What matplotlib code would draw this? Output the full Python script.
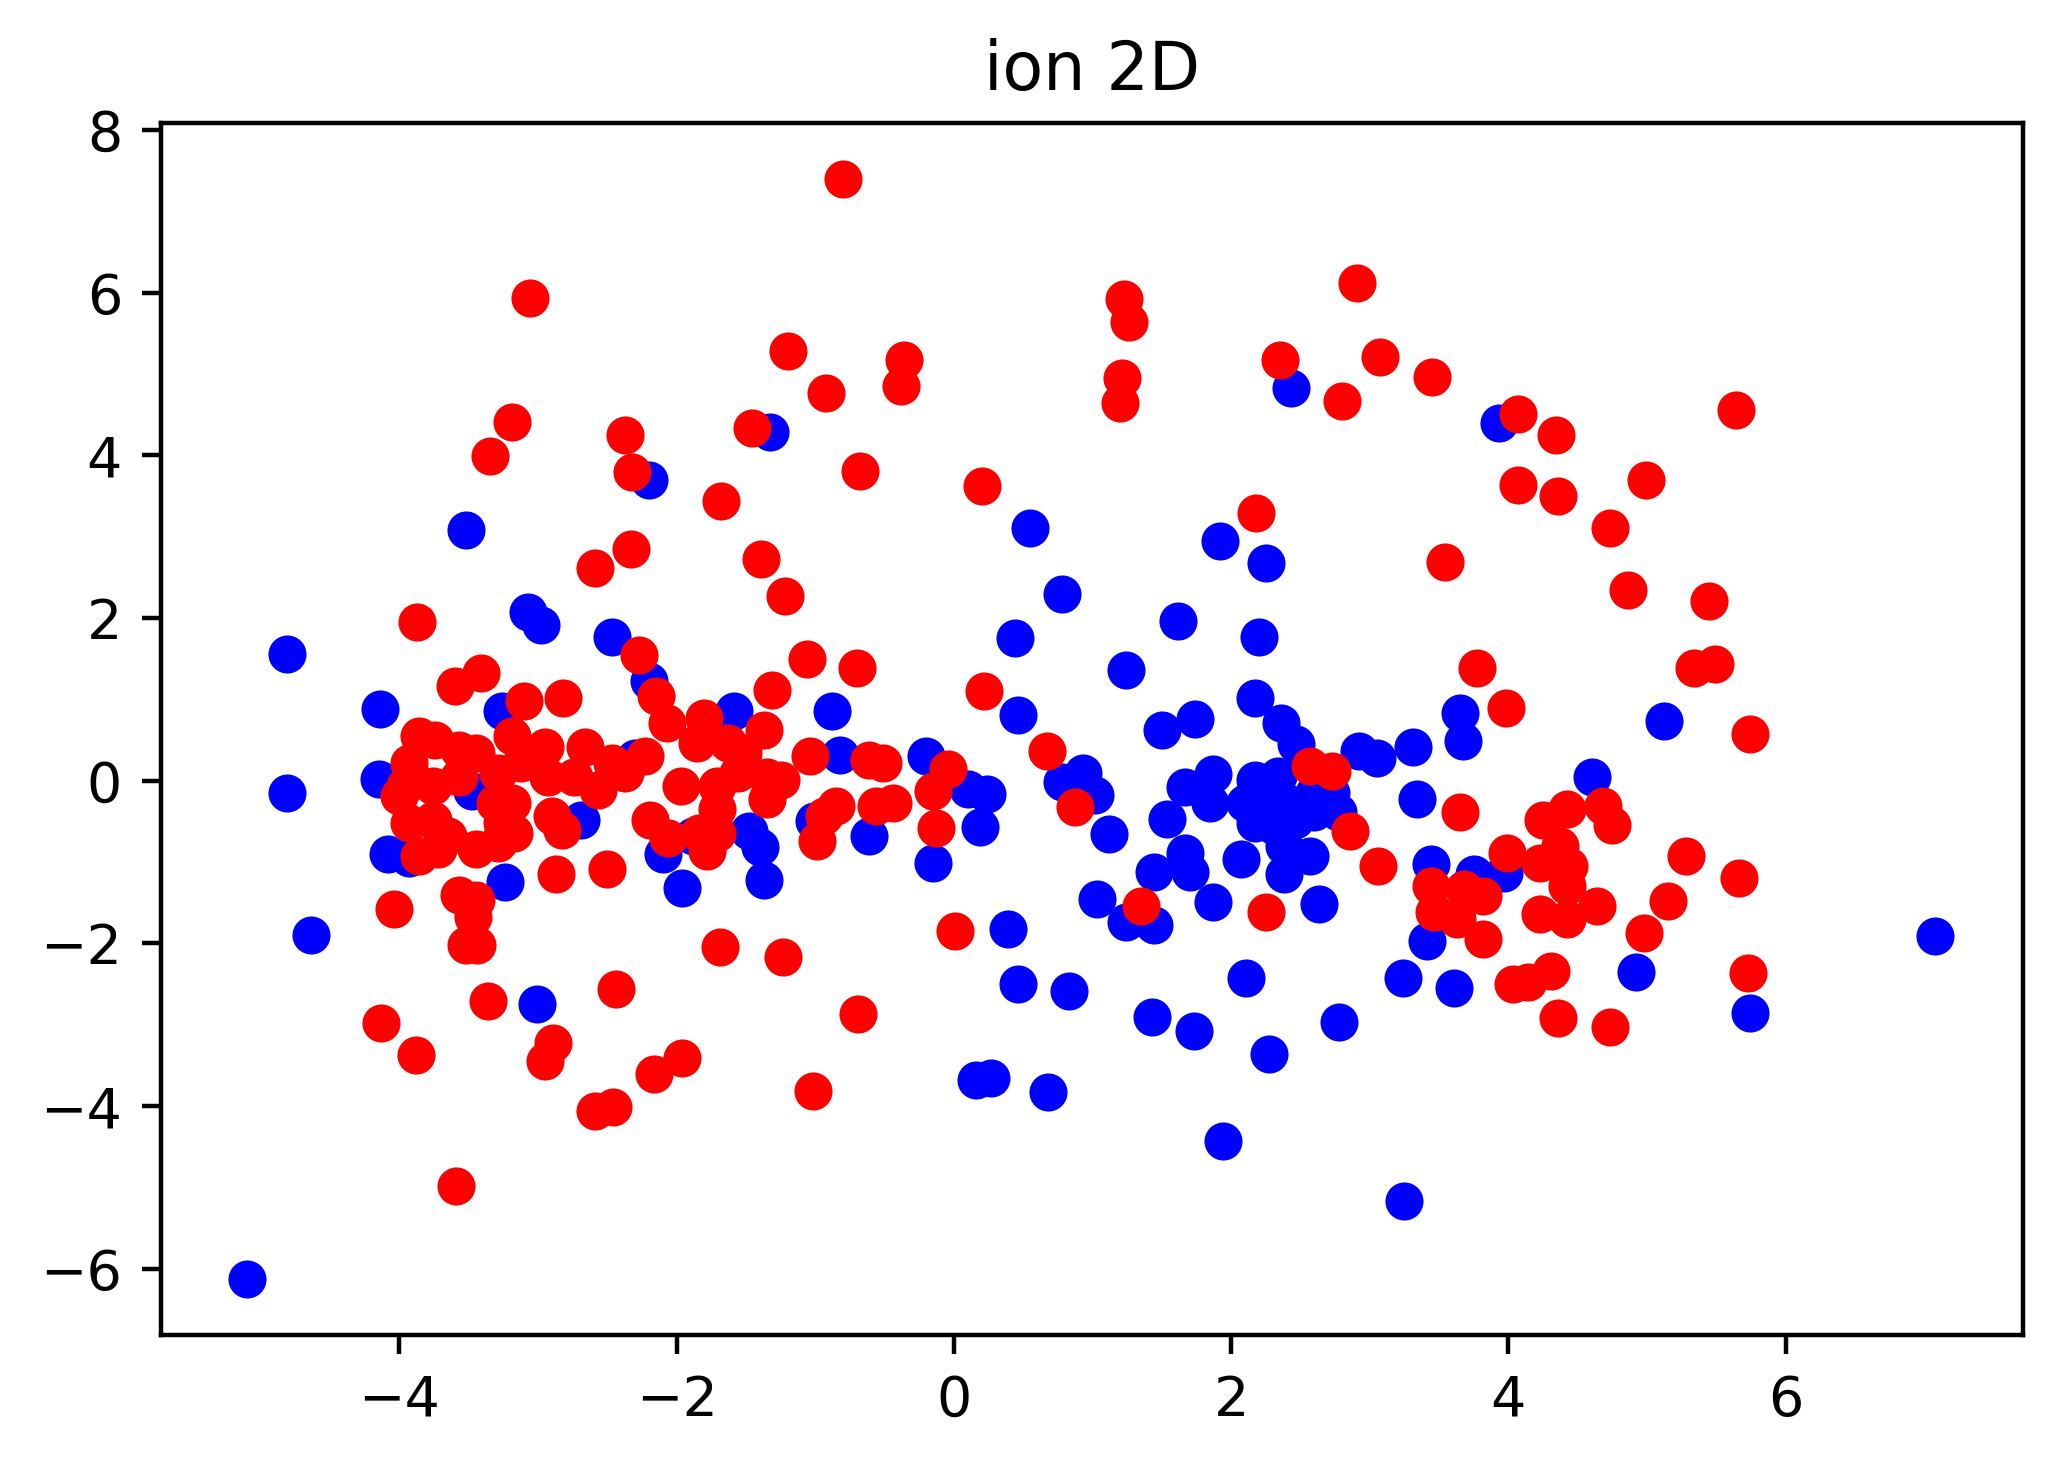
import matplotlib
matplotlib.use("Agg")
import matplotlib.pyplot as plt

title = "ion 2D"

blue_x = [-4.81, -3.52, -3.07, -2.98, -2.47, -2.20, -2.20, -1.33, 0.55, 0.78, 0.44, 0.46, 1.24, 1.62, 1.74,
          1.92, 2.25, 2.20, 2.17, 2.43, 3.93, 5.12, 3.65, 3.67, -1.59, -0.88, -4.14, -3.26, 1.50,
          -2.30, -4.15, -2.69, -3.48, -4.08, -3.93, -3.24,
          -5.10, -4.81, -4.64, -3.01, -1.96, -1.37, -1.48, -1.40, -2.10, -1.88, -0.82, -0.20, -1.01, -0.61,
          -0.15, 0.10, 0.24, 0.19,
          0.16, 0.27, 0.68, 0.39, 0.46, 0.83, 1.03, 1.12, 1.24, 1.44, 1.44, 1.43, 1.73, 1.94, 1.87, 1.67,
          1.70, 2.07, 2.11, 2.27, 2.38, 2.57, 2.63, 2.78, 3.25, 3.24, 3.41, 3.61, 3.44, 3.75, 3.97, 4.92,
          5.74, 7.08, 3.34, 3.05, 3.31, 4.60, 2.92,
          0.78, 0.93, 1.02, 1.54, 1.67, 1.87, 1.85, 2.36, 2.47,
          2.17, 2.34, 2.10, 2.24, 2.41, 2.31, 2.17, 2.46, 2.60, 2.72, 2.77, 2.60, 2.38]
blue_y = [1.56, 3.08, 2.08, 1.91, 1.77, 1.22, 3.70, 4.29, 3.11, 2.29, 1.75, 0.81, 1.36, 1.96, 0.76,
          2.95, 2.68, 1.77, 1.02, 4.83, 4.40, 0.73, 0.83, 0.49, 0.86, 0.86, 0.88, 0.86, 0.62,
          0.28, 0.02, -0.48, -0.13, -0.90, -0.95, -1.25,
          -6.12, -0.15, -1.90, -2.74, -1.32, -1.22, -0.62, -0.82, -0.90, -0.68, 0.32, 0.30, -0.50, -0.68,
          -1.01, -0.10, -0.16, -0.57,
          -3.68, -3.65, -3.83, -1.82, -2.50, -2.58, -1.46, -0.65, -1.74, -1.77, -1.12, -2.90, -3.08, -4.43, -1.49, -0.89,
          -1.12, -0.96, -2.42, -3.36, -1.15, -0.92, -1.51, -2.97, -5.17, -2.42, -1.97, -2.55, -1.03, -1.15, -1.13, -2.35,
          -2.85, -1.91, -0.23, 0.28, 0.41, 0.05, 0.36,
          -0.02, 0.10, -0.18, -0.47, -0.08, 0.08, -0.28, 0.71, 0.45,
          0.01, 0.06, -0.27, -0.35, -0.27, -0.56, -0.52, -0.48, -0.15, -0.15, -0.39, -0.39, -0.80]

red_x = [-0.80, -3.06, 2.91, 3.07, 1.23, 1.26, 1.21, 1.20, 2.35, 2.80, 3.45, 4.07, 4.34, 5.64, 4.99,
         4.07, 4.36, 4.73, 3.54, 4.86, 5.45, 5.34, 5.49, 5.74, 3.77, 3.98, 2.18, 0.20, 0.22, -0.36,
         -0.38, -0.68, -0.92, -1.20, -1.46, -1.68, -1.39, -1.22, -1.06, -0.70, -1.31, -2.37, -2.32, -2.33, -2.59,
         -3.19, -3.35, -3.87, -3.41, -3.60, -3.10, -2.82, -2.27, -2.15, 0.67,
         -3.86, -3.74, -3.57, -3.45, -3.19, -2.95, -2.66, -2.47, -3.93, -3.96, -3.76, -3.57, -3.29, -3.12, -2.93,
         -2.74, -2.57, -4.00, -3.93, -3.76, -3.65, -3.45, -3.29, -3.26, -3.19, -3.31, -2.90, -2.83, -3.86, -3.72, -3.17,
         -2.87, -2.50, -3.57, -3.45, -4.04,
         -2.07, -1.80, -1.85, -1.37, -1.63, -1.52, -2.23, -2.37, -1.97, -1.71, -1.56, -1.35, -1.25, -1.35, -1.71,
         -2.19, -2.06, -1.78, -1.71, -1.84, -1.04, -0.61, -0.51, -0.04, -0.15, -0.13, -0.85, -0.94, -0.99, -0.56, -0.44,
         -3.59, -4.13, -3.88, -2.95, -2.89, -3.36, -3.47, -3.52, -3.44, -2.44, -2.59, -2.46, -2.16, -1.96, -1.69,
         -1.23, -1.02, -0.69, 0.01, 1.35, 2.25, 3.06, 2.86, 0.87, 2.57, 2.73,
         3.65, 4.25, 4.42, 4.68, 4.75, 3.99, 4.37, 4.23, 4.44, 3.44, 3.68, 3.82, 3.46, 3.63, 3.82, 4.42, 4.23,
         4.42, 4.64, 4.03, 4.14, 4.31, 4.36, 4.73, 4.98, 5.15, 5.28, 5.66, 5.73]
red_y = [7.40, 5.94, 6.12, 5.21, 5.92, 5.64, 4.95, 4.64, 5.17, 4.67, 4.96, 4.51, 4.25, 4.56, 3.70,
         3.63, 3.50, 3.11, 2.69, 2.34, 2.21, 1.38, 1.44, 0.57, 1.38, 0.89, 3.29, 3.62, 1.10, 5.17,
         4.85, 3.81, 4.77, 5.28, 4.34, 3.44, 2.73, 2.27, 1.49, 1.39, 1.12, 4.25, 3.80, 2.85, 2.61,
         4.41, 3.99, 1.95, 1.33, 1.17, 0.98, 1.02, 1.54, 1.04, 0.37,
         0.55, 0.50, 0.38, 0.34, 0.55, 0.42, 0.42, 0.22, 0.22, -0.07, -0.07, 0.05, 0.09, 0.22, 0.05,
         0.05, -0.11, -0.19, -0.52, -0.48, -0.68, -0.84, -0.76, -0.52, -0.27, -0.27, -0.44, -0.60, -0.93, -0.84, -0.64,
         -1.15, -1.08, -1.40, -1.47, -1.58,
         0.71, 0.77, 0.46, 0.62, 0.46, 0.34, 0.30, 0.10, -0.07, -0.07, 0.10, 0.05, 0.01, -0.23, -0.35,
         -0.48, -0.70, -0.87, -0.64, -0.64, 0.30, 0.26, 0.22, 0.14, -0.13, -0.58, -0.31, -0.44, -0.74, -0.31, -0.27,
         -4.98, -2.98, -3.37, -3.44, -3.23, -2.71, -1.68, -2.02, -2.02, -2.56, -4.06, -4.01, -3.60, -3.41, -2.04,
         -2.17, -3.81, -2.87, -1.85, -1.54, -1.61, -1.05, -0.62, -0.32, 0.18, 0.12,
         -0.38, -0.48, -0.35, -0.31, -0.55, -0.89, -0.80, -1.01, -1.05, -1.29, -1.33, -1.42, -1.62, -1.70, -1.95, -1.29, -1.64,
         -1.70, -1.54, -2.50, -2.47, -2.34, -2.92, -3.03, -1.87, -1.48, -0.92, -1.20, -2.37]

fig = plt.figure(figsize=(5.16, 3.665), dpi=400)
ax = fig.add_axes([0.078, 0.0896, 0.902, 0.8262])
ax.scatter(blue_x, blue_y, s=47, c="#0000ff", linewidths=0)
ax.scatter(red_x, red_y, s=47, c="#ff0000", linewidths=0)
ax.set_xlim(-5.72, 7.71)
ax.set_ylim(-6.81, 8.08)
ax.set_xticks([-4, -2, 0, 2, 4, 6])
ax.set_yticks([-6, -4, -2, 0, 2, 4, 6, 8])
ax.set_title(title, fontsize=12)
fig.savefig("out.png", dpi=400)
